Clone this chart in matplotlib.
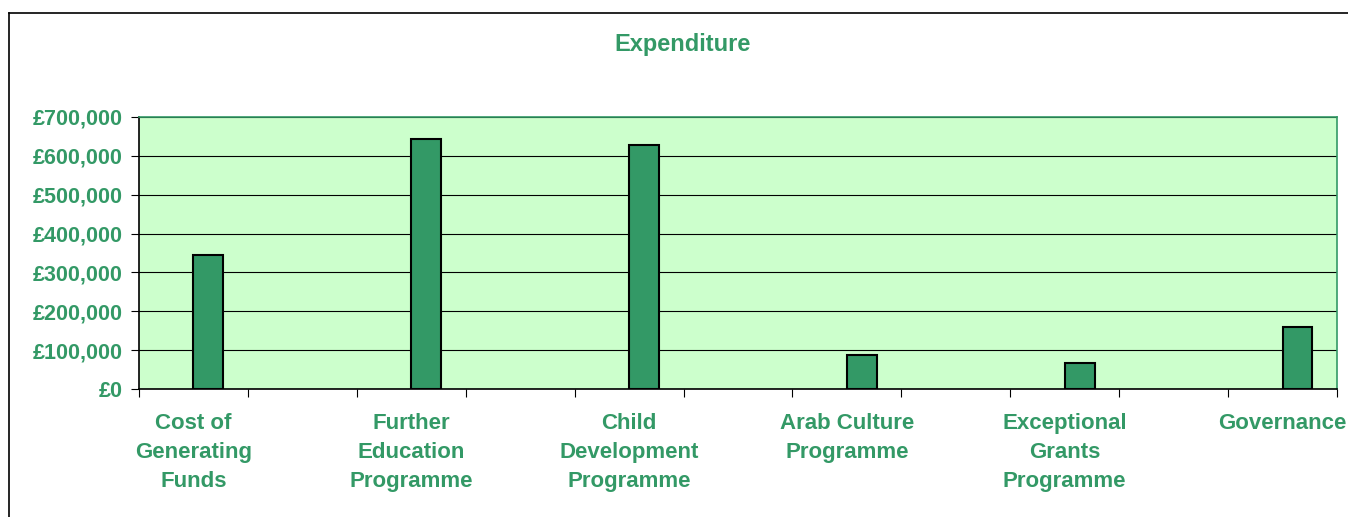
import matplotlib
matplotlib.use('Agg')
from matplotlib import pyplot as plt
from matplotlib.lines import Line2D
from matplotlib.ticker import FuncFormatter

# data
categories = ['Cost of\nGenerating\nFunds', 'Further\nEducation\nProgramme', 'Child\nDevelopment\nProgramme',
              'Arab Culture\nProgramme', 'Exceptional\nGrants\nProgramme', 'Governance']
expenditure = [346000, 643000, 628000, 88000, 68000, 160000]
yticks = [0, 100000, 200000, 300000, 400000, 500000, 600000, 700000]

green = '#339966'
plt.rcParams['font.family'] = ['Liberation Sans', 'DejaVu Sans']

fig = plt.figure(figsize=(13.48, 5.17), dpi=100)
ax = fig.add_axes([139 / 1348, 1 - 389 / 517, (1337 - 139) / 1348, (389 - 117) / 517])
ax.set_facecolor('#CCFFCC')

# every category has an empty slot after it (as in the original sheet)
pos = [2 * i for i in range(len(categories))]
ax.bar(pos, expenditure, width=0.275, align='edge', color=green, edgecolor='black', linewidth=1.5, zorder=3)

ax.set_xlim(-0.5, 2 * len(categories) - 1.5)
ax.set_ylim(0, 700000)
ax.set_yticks(yticks)
ax.yaxis.set_major_formatter(FuncFormatter(lambda v, p: '£{:,.0f}'.format(v)))
ax.grid(axis='y', color='black', linewidth=0.8, zorder=1)

ax.set_xticks([x - 0.5 for x in range(2 * len(categories))])
ax.set_xticklabels([])
ax.set_xticks(pos, minor=True)
ax.set_xticklabels(categories, minor=True, linespacing=1.5)
ax.tick_params(axis='x', which='minor', length=0, pad=17)
ax.tick_params(axis='x', which='major', length=6, color='black', direction='out')
ax.tick_params(axis='y', length=6, pad=6)
for lab in ax.get_yticklabels():
    lab.set_color(green)
    lab.set_fontweight('bold')
    lab.set_fontsize(15.5)
for lab in ax.get_xticklabels(minor=True):
    lab.set_color(green)
    lab.set_fontweight('bold')
    lab.set_fontsize(16)
    lab.set_verticalalignment('top')

ax.spines['left'].set_color('black')
ax.spines['bottom'].set_color('black')
ax.spines['top'].set_color(green)
ax.spines['right'].set_color(green)
for s in ax.spines.values():
    s.set_linewidth(1.2)

fig.text(683 / 1348, 1 - 45 / 517, 'Expenditure', ha='center', va='center', color=green, fontsize=17, fontweight='bold')

# chart frame (only top and left edges visible in the crop)
fig.add_artist(Line2D([9 / 1348, 9 / 1348], [0, 1 - 13 / 517], color='black', linewidth=1.2))
fig.add_artist(Line2D([9 / 1348, 1], [1 - 13 / 517, 1 - 13 / 517], color='black', linewidth=1.2))

plt.savefig('out.png', dpi=100)
